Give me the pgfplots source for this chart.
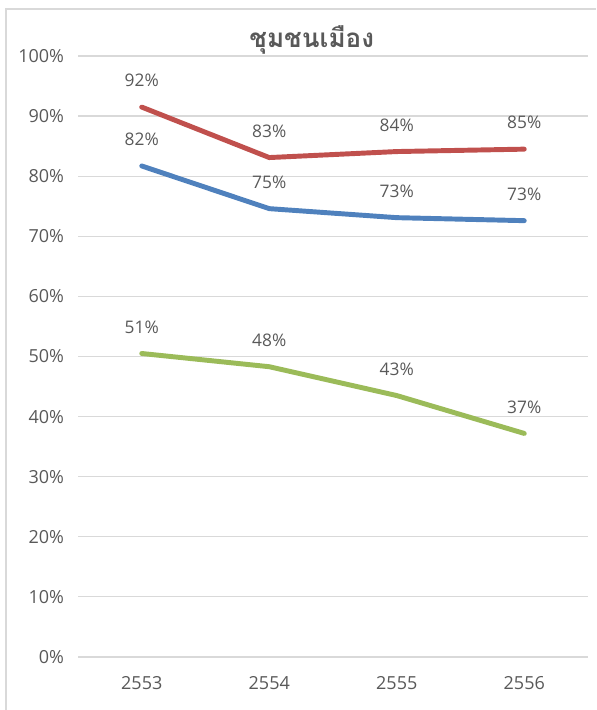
\documentclass[border=0pt]{standalone}
\usepackage{fontspec}
\setmainfont{Open Sans}
\newfontfamily\thaifont[Script=Thai]{Loma}
\usepackage{pgfplots}
\pgfplotsset{compat=1.18}
\definecolor{txt}{HTML}{595959}
\definecolor{gridc}{HTML}{D9D9D9}
\definecolor{cred}{HTML}{C0504D}
\definecolor{cblue}{HTML}{4F81BD}
\definecolor{cgreen}{HTML}{9BBB59}
\begin{document}
\begin{tikzpicture}[x=0.75pt,y=0.75pt]
% picture is 596 x 710 px, 1px = 0.75pt
\path[use as bounding box] (0,0) rectangle (596,710);
\draw[gridc, line width=1.2pt] (6,0) -- (6,701) -- (596,701);
\begin{axis}[
    at={(78pt*0.75,53pt*0.75)}, anchor=south west,
    scale only axis,
    width=382.5pt, height=450.75pt,
    xmin=-0.5, xmax=3.5,
    ymin=0, ymax=100,
    xtick={0,1,2,3},
    xticklabels={2553,2554,2555,2556},
    ytick={0,10,...,100},
    yticklabel={\pgfmathprintnumber{\tick}\%},
    /pgf/number format/assume math mode=true,
    ymajorgrids,
    grid style={gridc, line width=0.9pt},
    axis line style={draw=none},
    major tick length=0pt,
    tick label style={font=\fontsize{13.5}{15}\selectfont, text=txt},
    yticklabel style={xshift=-7pt},
    xticklabel style={yshift=-11pt},
    title={\thaifont\bfseries\fontsize{19.5}{22}\selectfont ชุมชนเมือง},
    title style={text=txt, yshift=-8pt, xshift=-16pt},
    point meta=explicit symbolic,
    nodes near coords,
    every node near coord/.append style={font=\fontsize{13}{15}\selectfont, text=txt, yshift=10pt},
    clip=false,
]
\addplot[cred, line width=3.7pt, line join=round, line cap=round] coordinates {
    (0,91.5) [92\%] (1,83.1) [83\%] (2,84.1) [84\%] (3,84.5) [85\%]
};
\addplot[cblue, line width=3.7pt, line join=round, line cap=round] coordinates {
    (0,81.7) [82\%] (1,74.6) [75\%] (2,73.1) [73\%] (3,72.6) [73\%]
};
\addplot[cgreen, line width=3.7pt, line join=round, line cap=round] coordinates {
    (0,50.5) [51\%] (1,48.3) [48\%] (2,43.5) [43\%] (3,37.2) [37\%]
};
\end{axis}
\end{tikzpicture}
\end{document}
